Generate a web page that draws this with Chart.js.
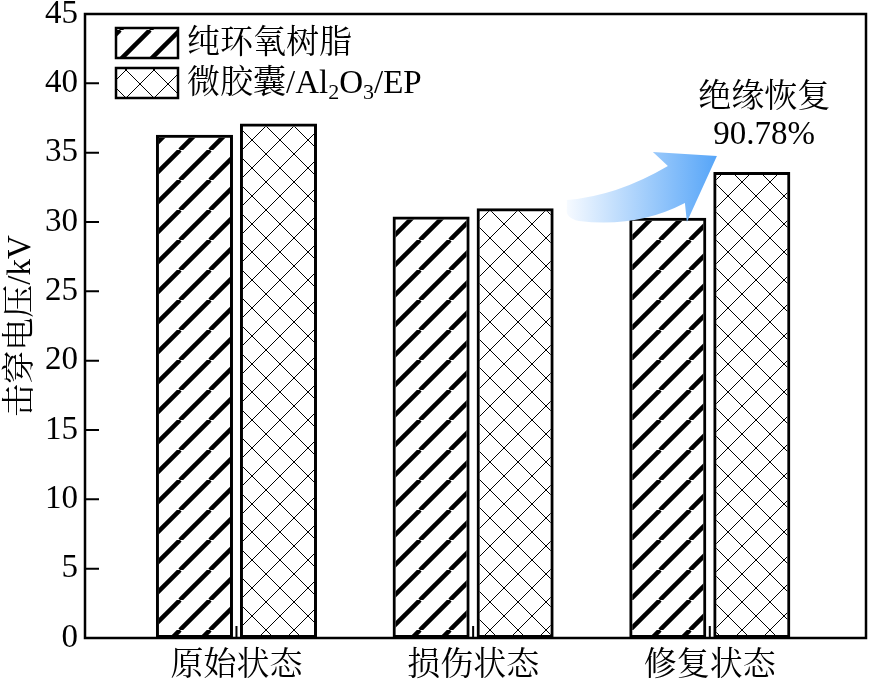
<!DOCTYPE html>
<html>
<head>
<meta charset="utf-8">
<script src="https://cdn.jsdelivr.net/npm/chart.js@4.4.0/dist/chart.umd.min.js"></script>
<style>
  html, body { margin: 0; padding: 0; background: #fff; }
</style>
</head>
<body>
<canvas id="chart" width="870" height="688"></canvas>
<script>
// Datos
const categories = ["原始状态", "损伤状态", "修复状态"];
const seriesNames = ["纯环氧树脂", "微胶囊/Al2O3/EP"];
const pureEP = [36.3, 30.4, 30.3];
const capsuleEP = [37.1, 31.0, 33.6];
const yTicks = [0, 5, 10, 15, 20, 25, 30, 35, 40, 45];
const noteLines = ["绝缘恢复", "90.78%"];

const FONT = '"Liberation Serif", "Noto Serif CJK SC", "Noto Sans CJK SC", serif';
const canvas = document.getElementById("chart");
const ctx = canvas.getContext("2d");

// Patrones de relleno

function stripePattern() {
  let p = 30;
  let tile = document.createElement("canvas");
  tile.width = p;
  tile.height = p;
  let g = tile.getContext("2d");
  g.strokeStyle = "#000";
  g.lineWidth = 4.5;
  for (let k = -1; k <= 1; k++) {
    g.beginPath();
    g.moveTo(k * p, p);
    g.lineTo(k * p + p, 0);
    g.stroke();
  }
  return ctx.createPattern(tile, "repeat");
}

function crossPattern() {
  let p = 28;
  let tile = document.createElement("canvas");
  tile.width = p;
  tile.height = p;
  let g = tile.getContext("2d");
  g.strokeStyle = "#000";
  g.lineWidth = 1;
  for (let k = -1; k <= 1; k++) {
    g.beginPath();
    g.moveTo(k * p, p);
    g.lineTo(k * p + p, 0);
    g.moveTo(k * p, 0);
    g.lineTo(k * p + p, p);
    g.stroke();
  }
  return ctx.createPattern(tile, "repeat");
}

const fills = [stripePattern(), crossPattern()];

// Texto con subíndices (Al2O3)

function drawRich(c, text, x, y, size) {
  let parts = text.split(/(\d+)/);
  c.textBaseline = "middle";
  c.textAlign = "left";
  parts.forEach((part, i) => {
    if (!part) return;
    if (i % 2 === 1) {
      c.font = `${Math.round(size * 0.66)}px ${FONT}`;
      c.fillText(part, x, y + size * 0.28);
    } else {
      c.font = `${size}px ${FONT}`;
      c.fillText(part, x, y);
    }
    x += c.measureText(part).width;
  });
}

// Flecha curva

function drawArrow(c, tx, ty) {
  let P = (dx, dy) => [tx + dx, ty + dy];
  let grad = c.createLinearGradient(tx - 150, 0, tx, 0);
  grad.addColorStop(0, "#f6faff");
  grad.addColorStop(1, "#56a5f8");
  c.beginPath();
  c.moveTo(...P(0, 0));
  c.lineTo(...P(-30, 66));
  c.lineTo(...P(-32, 47));
  c.quadraticCurveTo(...P(-80, 72), ...P(-138, 65));
  c.quadraticCurveTo(...P(-152, 62), ...P(-150, 52));
  c.lineTo(...P(-150, 44));
  c.quadraticCurveTo(...P(-100, 40), ...P(-49, 10));
  c.lineTo(...P(-64, -4));
  c.closePath();
  c.fillStyle = grad;
  c.fill();
}

const decor = {
  id: "decor",
  afterDatasetsDraw(chart) {
    let c = chart.ctx;
    let x = chart.scales.x;
    let y = chart.scales.y;
    c.save();
    drawArrow(c, x.getPixelForValue(2.03), y.getPixelForValue(34.76));
    c.restore();
  },
  afterDraw(chart) {
    let c = chart.ctx;
    let a = chart.chartArea;
    let x = chart.scales.x;
    let y = chart.scales.y;
    c.save();
    c.strokeStyle = "#000";
    c.lineWidth = 2.5;
    c.strokeRect(a.left, a.top, a.right - a.left, a.bottom - a.top);

    // ticks hacia adentro
    c.lineWidth = 2;
    c.beginPath();
    yTicks.forEach((v) => {
      let py = y.getPixelForValue(v);
      c.moveTo(a.left, py);
      c.lineTo(a.left + 14, py);
    });
    categories.forEach((cat, i) => {
      let px = x.getPixelForValue(i);
      c.moveTo(px, a.bottom);
      c.lineTo(px, a.bottom - 12);
    });
    c.stroke();

    // leyenda
    chart.data.datasets.forEach((ds, i) => {
      let bx = a.left + 31;
      let by = a.top + 14 + i * 40;
      c.fillStyle = ds.backgroundColor;
      c.fillRect(bx, by, 62, 30);
      c.lineWidth = 2.5;
      c.strokeRect(bx, by, 62, 30);
      c.fillStyle = "#000";
      drawRich(c, ds.label, bx + 71, by + 16, 33);
    });

    // anotación
    c.fillStyle = "#000";
    c.font = `33px ${FONT}`;
    c.textAlign = "center";
    c.textBaseline = "middle";
    c.fillText(noteLines[0], x.getPixelForValue(2.23), y.getPixelForValue(38.94));
    c.fillText(noteLines[1], x.getPixelForValue(2.23), y.getPixelForValue(36.27));
    c.restore();
  },
};

new Chart(ctx, {
  type: "bar",
  data: {
    datasets: [
      {
        label: seriesNames[0],
        data: pureEP.map((v, i) => ({ x: i, y: v })),
        backgroundColor: fills[0],
        borderColor: "#000",
        borderWidth: 3,
        borderSkipped: false,
        categoryPercentage: 0.71,
        barPercentage: 0.917,
      },
      {
        label: seriesNames[1],
        data: capsuleEP.map((v, i) => ({ x: i, y: v })),
        backgroundColor: fills[1],
        borderColor: "#000",
        borderWidth: 3,
        borderSkipped: false,
        categoryPercentage: 0.71,
        barPercentage: 0.917,
      },
    ],
  },
  options: {
    responsive: false,
    animation: false,
    layout: { padding: { top: 14, right: 4, left: 0, bottom: 0 } },
    plugins: {
      legend: { display: false },
      tooltip: { enabled: false },
    },
    scales: {
      x: {
        type: "linear",
        offset: false,
        min: -0.64,
        max: 2.66,
        afterBuildTicks: (s) => {
          s.ticks = categories.map((c, i) => ({ value: i }));
        },
        afterFit: (s) => {
          s.height = 50;
        },
        grid: { display: false, drawTicks: false, offset: false },
        border: { display: false },
        ticks: {
          callback: (v) => categories[v],
          font: { family: FONT, size: 33 },
          color: "#000",
          padding: 9,
          maxRotation: 0,
          autoSkip: false,
        },
      },
      y: {
        min: 0,
        max: 45,
        afterBuildTicks: (s) => {
          s.ticks = yTicks.map((v) => ({ value: v }));
        },
        afterFit: (s) => {
          s.width = 85;
        },
        grid: { display: false, drawTicks: false },
        border: { display: false },
        ticks: {
          font: { family: FONT, size: 33, lineHeight: 0.4 },
          color: "#000",
          padding: 7,
        },
        title: {
          display: true,
          text: "击穿电压/kV",
          font: { family: FONT, size: 33, lineHeight: 1 },
          color: "#000",
          padding: { top: 5, bottom: 0 },
        },
      },
    },
  },
  plugins: [decor],
});
</script>
</body>
</html>
